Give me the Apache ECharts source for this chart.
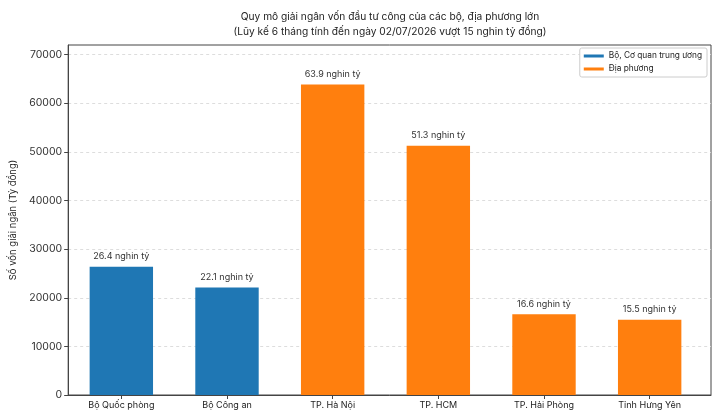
<!DOCTYPE html>
<html>
<head>
<meta charset="utf-8">
<script src="https://cdn.jsdelivr.net/npm/echarts@6/dist/echarts.min.js"></script>
<style>html,body{margin:0;padding:0;background:#fff}#c{width:720px;height:420px}</style>
</head>
<body>
<div id="c"></div>
<script>
var categories = ["Bộ Quốc phòng", "Bộ Công an", "TP. Hà Nội", "TP. HCM", "TP. Hải Phòng", "Tỉnh Hưng Yên"];
var groupNames = ["Bộ, Cơ quan trung ương", "Địa phương"];
var groupOfCategory = [0, 0, 1, 1, 1, 1];
var values = [26400, 22100, 63900, 51300, 16600, 15500];
var yTicks = [0, 10000, 20000, 30000, 40000, 50000, 60000, 70000];
var colors = ["#1f77b4", "#ff7f0e"];

var FONT = "Inter";
var Y_MAX = 72000;
var seriesList = groupNames.map(function (name, g) {
  var d = values.map(function (v, i) { return groupOfCategory[i] === g ? v : '-'; });
  return {
    name: name, type: 'bar', stack: 'all', data: d, barWidth: '60%',
    xAxisIndex: 1, yAxisIndex: 1,
    itemStyle: { color: colors[g] },
    label: {
      show: true, position: 'top', distance: 6, color: '#333', fontSize: 9, fontFamily: FONT,
      formatter: function (p) { return (p.value / 1000).toFixed(1) + ' nghin tỷ'; }
    }
  };
});

var chart = echarts.init(document.getElementById('c'));
chart.setOption({
  animation: false,
  textStyle: { fontFamily: FONT },
  title: {
    text: 'Quy mô giải ngân vốn đầu tư công của các bộ, địa phương lớn\n(Lũy kế 6 tháng tính đến ngày 02/07/2026 vượt 15 nghin tỷ đồng)',
    left: 385, top: 4, textAlign: 'center',
    textStyle: { fontSize: 10.2, fontWeight: 'normal', color: '#222', lineHeight: 15, fontFamily: FONT }
  },
  legend: {
    data: groupNames, orient: 'vertical', right: 13, top: 48,
    icon: 'rect', itemWidth: 20, itemHeight: 3, itemGap: 5,
    backgroundColor: '#fff', borderColor: '#ccc', borderWidth: 1, borderRadius: 2,
    padding: [4, 5, 4, 4],
    textStyle: { fontSize: 8.3, color: '#222', fontFamily: FONT }
  },
  grid: [
    { left: 60, right: 9, top: 45, bottom: 25, show: true, borderColor: '#444', borderWidth: 1 },
    { left: 68.5, right: 17.5, top: 45, bottom: 25 }
  ],
  xAxis: [
    { type: 'value', gridIndex: 0, min: 0, max: 1, show: true,
      axisLine: { show: true, onZero: false, lineStyle: { color: '#444' } },
      axisTick: { show: false }, axisLabel: { show: false }, splitLine: { show: false } },
    {
      type: 'category', gridIndex: 1, data: categories, boundaryGap: true,
      axisLine: { show: false },
      axisTick: { show: true, alignWithLabel: true, length: 4, lineStyle: { color: '#444' } },
      axisLabel: { margin: 6, fontSize: 9, color: '#222', fontFamily: FONT },
      splitLine: { show: false }
    }
  ],
  yAxis: [
    {
      type: 'value', gridIndex: 0, min: 0, max: Y_MAX,
      name: 'Số vốn giải ngân (Tỷ đồng)', nameLocation: 'middle', nameGap: 38,
      nameTextStyle: { fontSize: 9.5, color: '#222', fontFamily: FONT },
      axisLine: { show: true, onZero: false, lineStyle: { color: '#444' } },
      axisTick: { show: true, customValues: yTicks, length: 4, lineStyle: { color: '#444' } },
      axisLabel: { customValues: yTicks, margin: 6, fontSize: 10.5, color: '#333', fontFamily: FONT,
        formatter: function (v) { return String(v); } },
      splitLine: { show: true, lineStyle: { color: '#ddd', type: [3, 3] } }
    },
    { type: 'value', gridIndex: 1, min: 0, max: Y_MAX, show: false, splitLine: { show: false } }
  ],
  series: seriesList
});
</script>
</body>
</html>
